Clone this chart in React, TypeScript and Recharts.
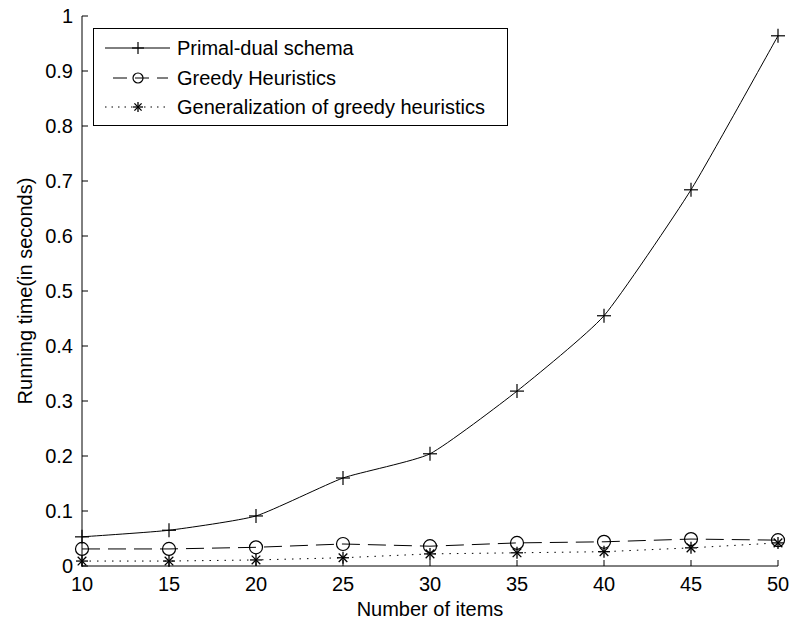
import React from 'react';
import { LineChart, Line, XAxis, YAxis, Legend } from 'recharts';

// Running time (seconds) against number of items, for three methods
const itemCounts = [10, 15, 20, 25, 30, 35, 40, 45, 50];
const primalDualTimes = [0.053, 0.065, 0.091, 0.16, 0.204, 0.318, 0.455, 0.684, 0.964];
const greedyTimes = [0.031, 0.031, 0.034, 0.04, 0.036, 0.042, 0.044, 0.049, 0.047];
const generalizedTimes = [0.009, 0.009, 0.011, 0.015, 0.022, 0.024, 0.026, 0.033, 0.042];

const xTicks = [10, 15, 20, 25, 30, 35, 40, 45, 50];
const yTicks = [0, 0.1, 0.2, 0.3, 0.4, 0.5, 0.6, 0.7, 0.8, 0.9, 1];

const seriesNames = [
  'Primal-dual schema',
  'Greedy Heuristics',
  'Generalization of greedy heuristics',
];

const xLabel = 'Number of items';
const yLabel = 'Running time(in seconds)';

const data = itemCounts.map((n, i) => ({
  n,
  primal: primalDualTimes[i],
  greedy: greedyTimes[i],
  general: generalizedTimes[i],
}));

const FONT = '"Liberation Sans", Arial, Helvetica, sans-serif';
const INK = '#000';
const TICK_LEN = 6;

// Cardinal spline curve factory (tension 0.5) for the smooth primal-dual trace
const cardinalCurve = (tension: number) => (context: any) => {
  const k = (1 - tension) / 6;
  let pts: [number, number][] = [];
  return {
    areaStart() {},
    areaEnd() {},
    lineStart() {
      pts = [];
    },
    point(x: number, y: number) {
      pts.push([+x, +y]);
    },
    lineEnd() {
      const n = pts.length;
      if (!n) return;
      context.moveTo(pts[0][0], pts[0][1]);
      for (let i = 0; i < n - 1; i++) {
        const p0 = pts[i - 1] || pts[i];
        const p1 = pts[i];
        const p2 = pts[i + 1];
        const p3 = pts[i + 2] || pts[i + 1];
        context.bezierCurveTo(
          p1[0] + (p2[0] - p0[0]) * k,
          p1[1] + (p2[1] - p0[1]) * k,
          p2[0] - (p3[0] - p1[0]) * k,
          p2[1] - (p3[1] - p1[1]) * k,
          p2[0],
          p2[1],
        );
      }
    },
  };
};

const smoothCurve = cardinalCurve(0.5);

const PlusMark = ({ cx, cy, s = 7 }: { cx: number; cy: number; s?: number }) => (
  <g stroke={INK} strokeWidth={1.2} fill="none">
    <line x1={cx - s} y1={cy} x2={cx + s} y2={cy} />
    <line x1={cx} y1={cy - s} x2={cx} y2={cy + s} />
  </g>
);

const CircleMark = ({ cx, cy, r = 6.5 }: { cx: number; cy: number; r?: number }) => (
  <circle cx={cx} cy={cy} r={r} stroke={INK} strokeWidth={1.2} fill="none" />
);

const StarMark = ({ cx, cy, s = 6 }: { cx: number; cy: number; s?: number }) => {
  const d = s * 0.72;
  return (
    <g stroke={INK} strokeWidth={1.3} fill="none">
      <line x1={cx - s} y1={cy} x2={cx + s} y2={cy} />
      <line x1={cx} y1={cy - s} x2={cx} y2={cy + s} />
      <line x1={cx - d} y1={cy - d} x2={cx + d} y2={cy + d} />
      <line x1={cx - d} y1={cy + d} x2={cx + d} y2={cy - d} />
    </g>
  );
};

const renderPlus = (p: any) => <PlusMark key={`plus-${p.index}`} cx={p.cx} cy={p.cy} />;
const renderCircle = (p: any) => <CircleMark key={`circ-${p.index}`} cx={p.cx} cy={p.cy} />;
const renderStar = (p: any) => <StarMark key={`star-${p.index}`} cx={p.cx} cy={p.cy} />;

const GREEDY_DASH = '18 8';
const DOTTED = '1.5 6';

// Inward-pointing ticks on all four sides of the axes box
const BottomTick = (p: any) => (
  <g>
    <path d={`M${p.x},${p.y}V${p.y - TICK_LEN}`} stroke={INK} strokeWidth={1} fill="none" />
    <text
      x={p.x}
      y={p.y + 18}
      textAnchor="middle"
      dominantBaseline="central"
      fontFamily={FONT}
      fontSize={20}
      fill={INK}
    >
      {p.payload.value}
    </text>
  </g>
);

const LeftTick = (p: any) => (
  <g>
    <path d={`M${p.x},${p.y}H${p.x + TICK_LEN}`} stroke={INK} strokeWidth={1} fill="none" />
    <text
      x={p.x - 9}
      y={p.y}
      textAnchor="end"
      dominantBaseline="central"
      fontFamily={FONT}
      fontSize={20}
      fill={INK}
    >
      {p.payload.value}
    </text>
  </g>
);

const TopTick = (p: any) => (
  <path d={`M${p.x},${p.y}V${p.y + TICK_LEN}`} stroke={INK} strokeWidth={1} fill="none" />
);

const RightTick = (p: any) => (
  <path d={`M${p.x},${p.y}H${p.x - TICK_LEN}`} stroke={INK} strokeWidth={1} fill="none" />
);

const LegendBox = () => {
  const rows = [
    { y: 20, dash: undefined as string | undefined, mark: (x: number, y: number) => <PlusMark cx={x} cy={y} s={6} /> },
    { y: 50, dash: '14 8', mark: (x: number, y: number) => <CircleMark cx={x} cy={y} r={5} /> },
    { y: 79, dash: '1.5 5', mark: (x: number, y: number) => <StarMark cx={x} cy={y} s={5} /> },
  ];
  return (
    <svg width={415} height={98} style={{ display: 'block' }}>
      <rect x={0.5} y={0.5} width={414} height={97} fill="#fff" stroke={INK} strokeWidth={1} />
      {rows.map((r, i) => (
        <g key={seriesNames[i]}>
          <line
            x1={i === 1 ? 20 : 12}
            y1={r.y}
            x2={i === 1 ? 75 : 77}
            y2={r.y}
            stroke={INK}
            strokeWidth={1}
            strokeDasharray={r.dash}
          />
          {r.mark(45, r.y)}
          <text
            x={84}
            y={r.y}
            dominantBaseline="central"
            fontFamily={FONT}
            fontSize={20}
            fill={INK}
          >
            {seriesNames[i]}
          </text>
        </g>
      ))}
    </svg>
  );
};

const axisLine = { stroke: INK, strokeWidth: 1 };

export default function App() {
  return (
    <div style={{ position: 'absolute', left: 0, top: 0, background: '#fff' }}>
      <LineChart
        width={789}
        height={622}
        data={data}
        margin={{ top: 16, right: 11, bottom: 0, left: 0 }}
        style={{ fontFamily: FONT }}
      >
        <XAxis
          dataKey="n"
          type="number"
          domain={[10, 50]}
          ticks={xTicks}
          interval={0}
          height={56}
          tickSize={0}
          tickMargin={0}
          tickLine={false}
          tick={BottomTick}
          axisLine={axisLine}
          label={{
            content: (props: any) => {
              const vb = props.viewBox;
              return (
                <text
                  x={vb.x + vb.width / 2}
                  y={vb.y + 43}
                  textAnchor="middle"
                  dominantBaseline="central"
                  fontFamily={FONT}
                  fontSize={20}
                  fill={INK}
                >
                  {xLabel}
                </text>
              );
            },
          }}
        />
        <XAxis
          xAxisId="top"
          orientation="top"
          type="number"
          domain={[10, 50]}
          ticks={xTicks}
          interval={0}
          height={0}
          tickSize={0}
          tickMargin={0}
          tickLine={false}
          tick={TopTick}
          axisLine={axisLine}
        />
        <YAxis
          type="number"
          domain={[0, 1]}
          ticks={yTicks}
          interval={0}
          width={82}
          tickSize={0}
          tickMargin={0}
          tickLine={false}
          tick={LeftTick}
          axisLine={axisLine}
          label={{
            content: (props: any) => {
              const vb = props.viewBox;
              const cx = vb.x + 25;
              const cy = vb.y + vb.height / 2;
              return (
                <text
                  x={cx}
                  y={cy}
                  transform={`rotate(-90 ${cx} ${cy})`}
                  textAnchor="middle"
                  dominantBaseline="central"
                  fontFamily={FONT}
                  fontSize={20}
                  fill={INK}
                >
                  {yLabel}
                </text>
              );
            },
          }}
        />
        <YAxis
          yAxisId="right"
          orientation="right"
          type="number"
          domain={[0, 1]}
          ticks={yTicks}
          interval={0}
          width={0}
          tickSize={0}
          tickMargin={0}
          tickLine={false}
          tick={RightTick}
          axisLine={axisLine}
        />
        <Legend
          layout="horizontal"
          verticalAlign="middle"
          align="center"
          content={() => <LegendBox />}
          wrapperStyle={{ left: 93, top: 28, width: 415, height: 98, position: 'absolute' }}
        />
        <Line
          type={smoothCurve as any}
          dataKey="primal"
          name={seriesNames[0]}
          stroke={INK}
          strokeWidth={1}
          dot={renderPlus}
          activeDot={false}
          isAnimationActive={false}
        />
        <Line
          type="linear"
          dataKey="greedy"
          name={seriesNames[1]}
          stroke={INK}
          strokeWidth={1}
          strokeDasharray={GREEDY_DASH}
          dot={renderCircle}
          activeDot={false}
          isAnimationActive={false}
        />
        <Line
          type="linear"
          dataKey="general"
          name={seriesNames[2]}
          stroke={INK}
          strokeWidth={1}
          strokeDasharray={DOTTED}
          dot={renderStar}
          activeDot={false}
          isAnimationActive={false}
        />
      </LineChart>
    </div>
  );
}
